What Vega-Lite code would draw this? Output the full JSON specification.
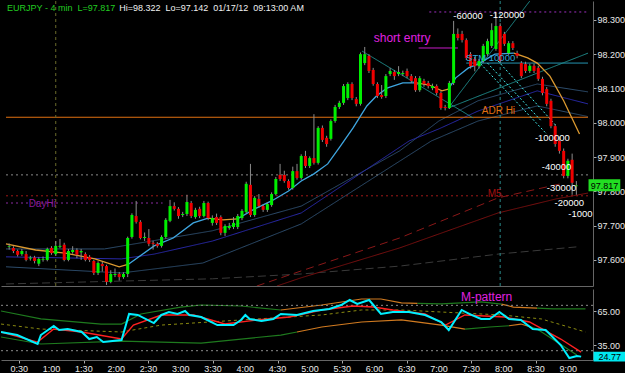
{
"$schema":"https://vega.github.io/schema/vega-lite/v6.json",
"background":"#000000",
"padding":0,
"spacing":2,
"config":{"view":{"stroke":null},"axis":{"labelFont":"Liberation Sans","labelFontSize":9,"labelColor":"#e8e8e8","tickColor":"#aaaaaa","domainColor":"#666666","grid":false,"title":null},"text":{"font":"Liberation Sans"}},
"datasets":{
"candles":[
{"t":16,"o":97.638,"h":97.648,"l":97.630,"c":97.640},{"t":20,"o":97.635,"h":97.640,"l":97.620,"c":97.626},{"t":24,"o":97.626,"h":97.630,"l":97.610,"c":97.615},{"t":28,"o":97.617,"h":97.632,"l":97.612,"c":97.626},{"t":32,"o":97.617,"h":97.626,"l":97.596,"c":97.600},{"t":36,"o":97.604,"h":97.612,"l":97.598,"c":97.607},{"t":40,"o":97.607,"h":97.612,"l":97.590,"c":97.597},{"t":44,"o":97.589,"h":97.608,"l":97.582,"c":97.603},{"t":48,"o":97.600,"h":97.610,"l":97.595,"c":97.602},{"t":52,"o":97.600,"h":97.636,"l":97.596,"c":97.632},
{"t":56,"o":97.635,"h":97.640,"l":97.615,"c":97.620},{"t":60,"o":97.617,"h":97.655,"l":97.612,"c":97.641},{"t":64,"o":97.638,"h":97.661,"l":97.634,"c":97.641},{"t":68,"o":97.644,"h":97.650,"l":97.596,"c":97.600},{"t":72,"o":97.600,"h":97.632,"l":97.596,"c":97.626},{"t":76,"o":97.623,"h":97.640,"l":97.618,"c":97.629},{"t":80,"o":97.629,"h":97.634,"l":97.605,"c":97.615},{"t":84,"o":97.622,"h":97.632,"l":97.600,"c":97.626},{"t":88,"o":97.617,"h":97.622,"l":97.596,"c":97.600},{"t":92,"o":97.609,"h":97.614,"l":97.594,"c":97.600},
{"t":96,"o":97.597,"h":97.600,"l":97.556,"c":97.562},{"t":100,"o":97.562,"h":97.596,"l":97.556,"c":97.591},{"t":104,"o":97.588,"h":97.594,"l":97.566,"c":97.582},{"t":108,"o":97.582,"h":97.586,"l":97.527,"c":97.536},{"t":112,"o":97.536,"h":97.570,"l":97.532,"c":97.559},{"t":116,"o":97.556,"h":97.575,"l":97.550,"c":97.559},{"t":120,"o":97.559,"h":97.565,"l":97.540,"c":97.550},{"t":124,"o":97.550,"h":97.564,"l":97.545,"c":97.559},{"t":128,"o":97.559,"h":97.668,"l":97.550,"c":97.664},{"t":132,"o":97.667,"h":97.736,"l":97.662,"c":97.731},
{"t":136,"o":97.728,"h":97.772,"l":97.706,"c":97.711},{"t":140,"o":97.711,"h":97.716,"l":97.660,"c":97.664},{"t":144,"o":97.664,"h":97.680,"l":97.655,"c":97.667},{"t":148,"o":97.664,"h":97.690,"l":97.640,"c":97.647},{"t":152,"o":97.650,"h":97.656,"l":97.630,"c":97.647},{"t":156,"o":97.647,"h":97.652,"l":97.636,"c":97.641},{"t":160,"o":97.641,"h":97.672,"l":97.636,"c":97.667},{"t":164,"o":97.667,"h":97.722,"l":97.662,"c":97.717},{"t":168,"o":97.714,"h":97.775,"l":97.710,"c":97.757},{"t":172,"o":97.757,"h":97.768,"l":97.744,"c":97.749},
{"t":176,"o":97.749,"h":97.754,"l":97.720,"c":97.728},{"t":180,"o":97.731,"h":97.740,"l":97.725,"c":97.734},{"t":184,"o":97.734,"h":97.790,"l":97.728,"c":97.769},{"t":188,"o":97.766,"h":97.772,"l":97.722,"c":97.728},{"t":192,"o":97.725,"h":97.752,"l":97.720,"c":97.746},{"t":196,"o":97.749,"h":97.755,"l":97.722,"c":97.728},{"t":200,"o":97.728,"h":97.772,"l":97.724,"c":97.766},{"t":204,"o":97.766,"h":97.770,"l":97.716,"c":97.722},{"t":208,"o":97.708,"h":97.730,"l":97.700,"c":97.722},{"t":212,"o":97.725,"h":97.735,"l":97.702,"c":97.708},
{"t":216,"o":97.725,"h":97.730,"l":97.672,"c":97.679},{"t":220,"o":97.679,"h":97.704,"l":97.670,"c":97.699},{"t":224,"o":97.693,"h":97.708,"l":97.688,"c":97.699},{"t":228,"o":97.696,"h":97.725,"l":97.690,"c":97.708},{"t":232,"o":97.696,"h":97.734,"l":97.690,"c":97.728},{"t":236,"o":97.722,"h":97.748,"l":97.716,"c":97.743},{"t":240,"o":97.740,"h":97.828,"l":97.736,"c":97.822},{"t":244,"o":97.819,"h":97.880,"l":97.725,"c":97.731},{"t":248,"o":97.731,"h":97.786,"l":97.726,"c":97.781},{"t":252,"o":97.778,"h":97.792,"l":97.752,"c":97.757},
{"t":256,"o":97.757,"h":97.762,"l":97.740,"c":97.746},{"t":260,"o":97.746,"h":97.768,"l":97.740,"c":97.763},{"t":264,"o":97.760,"h":97.797,"l":97.755,"c":97.792},{"t":268,"o":97.792,"h":97.842,"l":97.788,"c":97.836},{"t":272,"o":97.848,"h":97.880,"l":97.830,"c":97.836},{"t":276,"o":97.848,"h":97.860,"l":97.825,"c":97.830},{"t":280,"o":97.830,"h":97.835,"l":97.805,"c":97.810},{"t":284,"o":97.810,"h":97.872,"l":97.805,"c":97.859},{"t":288,"o":97.859,"h":97.880,"l":97.834,"c":97.839},{"t":292,"o":97.839,"h":97.908,"l":97.834,"c":97.903},
{"t":296,"o":97.903,"h":97.918,"l":97.868,"c":97.874},{"t":300,"o":97.874,"h":97.902,"l":97.868,"c":97.897},{"t":304,"o":97.897,"h":98.025,"l":97.878,"c":97.883},{"t":308,"o":97.883,"h":97.990,"l":97.878,"c":97.985},{"t":312,"o":97.985,"h":97.992,"l":97.944,"c":97.950},{"t":316,"o":97.956,"h":97.962,"l":97.930,"c":97.938},{"t":320,"o":97.953,"h":98.010,"l":97.948,"c":98.005},{"t":324,"o":98.005,"h":98.052,"l":98.000,"c":98.046},{"t":328,"o":98.046,"h":98.064,"l":98.040,"c":98.058},{"t":332,"o":98.058,"h":98.113,"l":98.052,"c":98.107},
{"t":336,"o":98.072,"h":98.118,"l":98.066,"c":98.113},{"t":340,"o":98.113,"h":98.118,"l":98.066,"c":98.072},{"t":344,"o":98.069,"h":98.075,"l":98.048,"c":98.055},{"t":348,"o":98.055,"h":98.205,"l":98.050,"c":98.200},{"t":352,"o":98.174,"h":98.221,"l":98.168,"c":98.200},{"t":356,"o":98.195,"h":98.200,"l":98.145,"c":98.151},{"t":360,"o":98.154,"h":98.160,"l":98.108,"c":98.113},{"t":364,"o":98.113,"h":98.118,"l":98.072,"c":98.078},{"t":368,"o":98.081,"h":98.110,"l":98.070,"c":98.075},{"t":372,"o":98.078,"h":98.142,"l":98.072,"c":98.136},
{"t":376,"o":98.142,"h":98.160,"l":98.136,"c":98.151},{"t":380,"o":98.148,"h":98.154,"l":98.125,"c":98.136},{"t":384,"o":98.142,"h":98.165,"l":98.136,"c":98.148},{"t":388,"o":98.142,"h":98.152,"l":98.136,"c":98.145},{"t":392,"o":98.151,"h":98.158,"l":98.130,"c":98.136},{"t":396,"o":98.136,"h":98.142,"l":98.116,"c":98.122},{"t":400,"o":98.130,"h":98.136,"l":98.090,"c":98.095},{"t":404,"o":98.095,"h":98.136,"l":98.090,"c":98.130},{"t":408,"o":98.122,"h":98.128,"l":98.105,"c":98.113},{"t":412,"o":98.116,"h":98.122,"l":98.100,"c":98.107},
{"t":416,"o":98.101,"h":98.114,"l":98.095,"c":98.107},{"t":420,"o":98.107,"h":98.112,"l":98.080,"c":98.087},{"t":424,"o":98.087,"h":98.092,"l":98.038,"c":98.043},{"t":428,"o":98.046,"h":98.052,"l":98.036,"c":98.043},{"t":432,"o":98.043,"h":98.122,"l":98.040,"c":98.116},{"t":436,"o":98.116,"h":98.297,"l":98.110,"c":98.259},{"t":440,"o":98.259,"h":98.275,"l":98.240,"c":98.247},{"t":444,"o":98.259,"h":98.268,"l":98.234,"c":98.241},{"t":448,"o":98.241,"h":98.246,"l":98.183,"c":98.189},{"t":452,"o":98.200,"h":98.206,"l":98.158,"c":98.165},
{"t":456,"o":98.186,"h":98.192,"l":98.150,"c":98.165},{"t":460,"o":98.165,"h":98.186,"l":98.158,"c":98.180},{"t":464,"o":98.180,"h":98.230,"l":98.175,"c":98.224},{"t":468,"o":98.200,"h":98.245,"l":98.195,"c":98.238},{"t":472,"o":98.224,"h":98.290,"l":98.218,"c":98.270},{"t":476,"o":98.215,"h":98.322,"l":98.210,"c":98.282},{"t":480,"o":98.282,"h":98.290,"l":98.175,"c":98.180},{"t":484,"o":98.259,"h":98.265,"l":98.224,"c":98.230},{"t":488,"o":98.203,"h":98.238,"l":98.198,"c":98.232},{"t":492,"o":98.232,"h":98.238,"l":98.212,"c":98.218},
{"t":496,"o":98.203,"h":98.210,"l":98.188,"c":98.195},{"t":500,"o":98.174,"h":98.180,"l":98.130,"c":98.136},{"t":504,"o":98.171,"h":98.178,"l":98.145,"c":98.151},{"t":508,"o":98.151,"h":98.172,"l":98.145,"c":98.166},{"t":512,"o":98.166,"h":98.172,"l":98.145,"c":98.151},{"t":516,"o":98.160,"h":98.166,"l":98.122,"c":98.128},{"t":520,"o":98.128,"h":98.134,"l":98.080,"c":98.087},{"t":524,"o":98.098,"h":98.104,"l":98.048,"c":98.055},{"t":528,"o":98.064,"h":98.070,"l":97.984,"c":97.990},{"t":532,"o":97.990,"h":97.996,"l":97.930,"c":97.938},
{"t":536,"o":97.947,"h":97.960,"l":97.910,"c":97.918},{"t":540,"o":97.918,"h":97.925,"l":97.838,"c":97.845},{"t":544,"o":97.845,"h":97.895,"l":97.838,"c":97.889},{"t":548,"o":97.892,"h":97.910,"l":97.790,"c":97.825},{"t":552,"o":97.815,"h":97.830,"l":97.790,"c":97.817}
],
"ma":[
{"t":13,"p":97.632,"s":"up"},{"t":106,"p":97.632,"s":"up"},{"t":208,"p":97.685,"s":"up"},{"t":292,"p":97.757,"s":"up"},{"t":385,"p":97.918,"s":"up"},{"t":422,"p":98.005,"s":"up"},{"t":459,"p":98.064,"s":"up"},{"t":515,"p":98.113,"s":"up"},{"t":563,"p":98.090,"s":"up"},
{"t":13,"p":97.609,"s":"mid"},{"t":122,"p":97.603,"s":"mid"},{"t":153,"p":97.617,"s":"mid"},{"t":208,"p":97.655,"s":"mid"},{"t":292,"p":97.737,"s":"mid"},{"t":394,"p":97.947,"s":"mid"},{"t":422,"p":97.982,"s":"mid"},{"t":459,"p":98.034,"s":"mid"},{"t":515,"p":98.093,"s":"mid"},{"t":563,"p":98.055,"s":"mid"},
{"t":13,"p":97.580,"s":"lo"},{"t":122,"p":97.562,"s":"lo"},{"t":199,"p":97.591,"s":"lo"},{"t":292,"p":97.705,"s":"lo"},{"t":415,"p":97.947,"s":"lo"},{"t":459,"p":98.005,"s":"lo"},{"t":515,"p":98.049,"s":"lo"},{"t":563,"p":98.018,"s":"lo"},
{"t":13,"p":97.530,"s":"gry"},{"t":208,"p":97.545,"s":"gry"},{"t":292,"p":97.559,"s":"gry"},{"t":385,"p":97.582,"s":"gry"},{"t":478,"p":97.617,"s":"gry"},{"t":552,"p":97.638,"s":"gry"},
{"t":250,"p":97.524,"s":"rdd"},{"t":292,"p":97.568,"s":"rdd"},{"t":385,"p":97.664,"s":"rdd"},{"t":478,"p":97.781,"s":"rdd"},{"t":540,"p":97.824,"s":"rdd"},
{"t":269,"p":97.524,"s":"rds"},{"t":292,"p":97.548,"s":"rds"},{"t":385,"p":97.635,"s":"rds"},{"t":478,"p":97.737,"s":"rds"},{"t":533,"p":97.778,"s":"rds"},{"t":563,"p":97.795,"s":"rds"}
],
"ema":[
{"t":13,"p":97.647,"s":"o1","k":"down"},{"t":41,"p":97.629,"s":"o1","k":"down"},{"t":69,"p":97.620,"s":"o1","k":"down"},{"t":97,"p":97.603,"s":"o1","k":"down"},{"t":120,"p":97.580,"s":"o1","k":"down"},{"t":129,"p":97.588,"s":"o1","k":"down"},
{"t":129,"p":97.588,"s":"b1","k":"up"},{"t":153,"p":97.641,"s":"b1","k":"up"},{"t":171,"p":97.664,"s":"b1","k":"up"},{"t":190,"p":97.708,"s":"b1","k":"up"},{"t":204,"p":97.722,"s":"b1","k":"up"},
{"t":204,"p":97.722,"s":"o2","k":"down"},{"t":218,"p":97.717,"s":"o2","k":"down"},{"t":232,"p":97.720,"s":"o2","k":"down"},
{"t":232,"p":97.720,"s":"b2","k":"up"},{"t":248,"p":97.749,"s":"b2","k":"up"},{"t":264,"p":97.772,"s":"b2","k":"up"},{"t":280,"p":97.801,"s":"b2","k":"up"},{"t":292,"p":97.830,"s":"b2","k":"up"},{"t":304,"p":97.851,"s":"b2","k":"up"},{"t":317,"p":97.880,"s":"b2","k":"up"},{"t":329,"p":97.932,"s":"b2","k":"up"},{"t":341,"p":97.985,"s":"b2","k":"up"},{"t":354,"p":98.049,"s":"b2","k":"up"},{"t":363,"p":98.078,"s":"b2","k":"up"},{"t":373,"p":98.101,"s":"b2","k":"up"},{"t":388,"p":98.116,"s":"b2","k":"up"},{"t":401,"p":98.116,"s":"b2","k":"up"},
{"t":401,"p":98.116,"s":"o3","k":"down"},{"t":413,"p":98.110,"s":"o3","k":"down"},{"t":425,"p":98.093,"s":"o3","k":"down"},{"t":431,"p":98.098,"s":"o3","k":"down"},
{"t":431,"p":98.098,"s":"b3","k":"up"},{"t":438,"p":98.131,"s":"b3","k":"up"},{"t":450,"p":98.160,"s":"b3","k":"up"},{"t":459,"p":98.171,"s":"b3","k":"up"},{"t":475,"p":98.200,"s":"b3","k":"up"},{"t":493,"p":98.203,"s":"b3","k":"up"},
{"t":493,"p":98.203,"s":"o4","k":"down"},{"t":506,"p":98.189,"s":"o4","k":"down"},{"t":515,"p":98.174,"s":"o4","k":"down"},{"t":527,"p":98.136,"s":"o4","k":"down"},{"t":540,"p":98.064,"s":"o4","k":"down"},{"t":555,"p":97.967,"s":"o4","k":"down"}
],
"levels":[
{"t":13,"t2":563,"p":97.848,"k":"grey"},
{"t":13,"t2":563,"p":97.787,"k":"m5"},
{"t":13,"t2":161,"p":97.766,"k":"dayhi"},
{"t":13,"t2":563,"p":98.016,"k":"adr"},
{"t":413,"t2":563,"p":98.323,"k":"top"},
{"t":403,"t2":440,"p":98.218,"k":"entry"},
{"t":448,"t2":563,"p":98.174,"k":"stm"}
],
"vlines":[{"t":60,"k":"day"},{"t":480,"k":"sess"}],
"trend":[
{"t":349.5,"p":98.209,"t2":454.5,"p2":98.014,"k":"teal"},
{"t":431,"p":98.043,"t2":508,"p2":98.355,"k":"teal"},
{"t":431,"p":98.043,"t2":563,"p2":98.203,"k":"teal"},
{"t":459,"p":98.180,"t2":524,"p2":97.967,"k":"cyan"},
{"t":468,"p":98.174,"t2":519,"p2":98.005,"k":"cyan"},
{"t":478,"p":98.180,"t2":533,"p2":97.991,"k":"cyan"}
],
"labels":[
{"t":14,"p":98.335,"txt":"EURJPY - 4 min \u00a0L=97.817","k":"hdr"},
{"t":120,"p":98.335,"txt":"Hi=98.322 \u00a0Lo=97.142 \u00a001/17/12 \u00a009:13:00 AM","k":"hdrw"},
{"t":360.5,"p":98.247,"txt":"short entry","k":"entry"},
{"t":462.6,"p":98.034,"txt":"ADR Hi","k":"adr"},
{"t":447.8,"p":98.189,"txt":"STM 10000","k":"stm"},
{"t":435.7,"p":98.311,"txt":"-60000","k":"qty"},
{"t":470.1,"p":98.314,"txt":"-120000","k":"qty"},
{"t":512.8,"p":97.956,"txt":"-100000","k":"qty"},
{"t":519.3,"p":97.871,"txt":"-40000","k":"qty"},
{"t":524,"p":97.810,"txt":"-30000","k":"qty"},
{"t":531.4,"p":97.766,"txt":"-20000","k":"qty"},
{"t":544.4,"p":97.734,"txt":"-1000","k":"qty"},
{"t":468.2,"p":97.792,"txt":"M5","k":"m5"},
{"t":34.4,"p":97.763,"txt":"DayHi","k":"dayhi"}
],
"pricebox":[{"t":563.5,"t2":593.5,"p":97.800,"p2":97.835,"tc":578.5,"pc":97.817,"txt":"97.817"}],
"bands":[
{"t":13,"v":65,"s":"ug1","k":"g"},{"t":50,"v":58,"s":"ug1","k":"g"},{"t":106,"v":53.5,"s":"ug1","k":"g"},{"t":125,"v":53.5,"s":"ug1","k":"g"},{"t":143,"v":62.4,"s":"ug1","k":"g"},{"t":180,"v":68.5,"s":"ug1","k":"g"},{"t":199,"v":70.3,"s":"ug1","k":"g"},{"t":236,"v":69.4,"s":"ug1","k":"g"},{"t":273,"v":65.9,"s":"ug1","k":"g"},
{"t":273,"v":65.9,"s":"uo1","k":"o"},{"t":311,"v":70.3,"s":"uo1","k":"o"},{"t":348,"v":75.6,"s":"uo1","k":"o"},{"t":366,"v":75.6,"s":"uo1","k":"o"},{"t":385,"v":72.1,"s":"uo1","k":"o"},{"t":400,"v":71.8,"s":"uo1","k":"o"},
{"t":400,"v":71.8,"s":"ug2","k":"g"},{"t":422,"v":71.2,"s":"ug2","k":"g"},{"t":459,"v":73,"s":"ug2","k":"g"},{"t":478,"v":71,"s":"ug2","k":"g"},
{"t":478,"v":71,"s":"uo2","k":"o"},{"t":489,"v":68.5,"s":"uo2","k":"o"},{"t":511,"v":67.5,"s":"uo2","k":"o"},
{"t":511,"v":67.5,"s":"ug3","k":"g"},{"t":526,"v":66.8,"s":"ug3","k":"g"},{"t":556,"v":66.8,"s":"ug3","k":"g"},
{"t":13,"v":42.1,"s":"lg1","k":"g"},{"t":50,"v":35.9,"s":"lg1","k":"g"},{"t":125,"v":38.5,"s":"lg1","k":"g"},{"t":199,"v":36.7,"s":"lg1","k":"g"},{"t":273,"v":43.8,"s":"lg1","k":"g"},{"t":288,"v":46.5,"s":"lg1","k":"g"},
{"t":288,"v":46.5,"s":"lo1","k":"o"},{"t":311,"v":50.9,"s":"lo1","k":"o"},{"t":348,"v":55.3,"s":"lo1","k":"o"},{"t":385,"v":57.1,"s":"lo1","k":"o"},{"t":422,"v":52.6,"s":"lo1","k":"o"},{"t":444,"v":49.1,"s":"lo1","k":"o"},
{"t":444,"v":49.1,"s":"lg2","k":"g"},{"t":467,"v":50.9,"s":"lg2","k":"g"},{"t":485,"v":52,"s":"lg2","k":"g"},
{"t":485,"v":52,"s":"lo2","k":"o"},{"t":496,"v":53.5,"s":"lo2","k":"o"},{"t":505,"v":51,"s":"lo2","k":"o"},
{"t":505,"v":51,"s":"lg3","k":"g"},{"t":511,"v":49.1,"s":"lg3","k":"g"},{"t":548,"v":26.2,"s":"lg3","k":"g"}
],
"mid":[{"t":13,"v":53.5},{"t":50,"v":49.1},{"t":125,"v":46.5},{"t":162,"v":52.6},{"t":236,"v":57.1},{"t":311,"v":61.5},{"t":348,"v":65.9},{"t":385,"v":65.9},{"t":422,"v":64.1},{"t":478,"v":61.5},{"t":515,"v":58},{"t":556,"v":46.5}],
"sig":[{"t":13,"v":46.5},{"t":47,"v":37.6},{"t":62,"v":49.1},{"t":88,"v":46.5},{"t":125,"v":40.3},{"t":136,"v":52.6},{"t":162,"v":61.5},{"t":192,"v":61.5},{"t":221,"v":53.5},{"t":251,"v":57.1},{"t":281,"v":59.7},{"t":311,"v":65.9},{"t":340,"v":69.4},{"t":359,"v":68.5},{"t":377,"v":65.9},{"t":407,"v":62.4},{"t":426,"v":52.6},{"t":444,"v":61.5},{"t":481,"v":59.7},{"t":504,"v":55.3},{"t":533,"v":40.3},{"t":552,"v":28.8}],
"k":[{"t":13,"v":46.5},{"t":28,"v":43.8},{"t":47,"v":35.9},{"t":50,"v":43.8},{"t":62,"v":51.8},{"t":67,"v":48.2},{"t":75,"v":49.1},{"t":88,"v":46.5},{"t":95,"v":40.3},{"t":102,"v":42.1},{"t":108,"v":37.6},{"t":125,"v":39.4},{"t":132,"v":62.4},{"t":140,"v":61.5},{"t":155,"v":54.4},{"t":162,"v":61.5},{"t":169,"v":64.1},{"t":177,"v":62.4},{"t":184,"v":65},{"t":188,"v":61.5},{"t":199,"v":59.7},{"t":214,"v":52.6},{"t":229,"v":52.6},{"t":236,"v":57.1},{"t":240,"v":61.5},{"t":244,"v":58},{"t":255,"v":56.2},{"t":266,"v":58},{"t":273,"v":62.4},{"t":288,"v":61.5},{"t":303,"v":65},{"t":318,"v":66.8},{"t":329,"v":70.3},{"t":337,"v":74.7},{"t":344,"v":71.2},{"t":355,"v":74.7},{"t":366,"v":62.4},{"t":377,"v":64.1},{"t":392,"v":64.1},{"t":407,"v":61.5},{"t":422,"v":55.3},{"t":429,"v":48.2},{"t":441,"v":65.9},{"t":448,"v":62.4},{"t":459,"v":58},{"t":467,"v":58},{"t":476,"v":64.1},{"t":485,"v":58},{"t":496,"v":57.1},{"t":507,"v":49.1},{"t":519,"v":48.2},{"t":533,"v":35},{"t":541,"v":23.5},{"t":548,"v":25.3},{"t":552,"v":24.77}],
"ilabels":[{"t":440.3,"v":77.4,"txt":"M-pattern"}],
"ibox":[{"t":563.5,"t2":593.5,"v":29,"v2":20.4,"tc":578.5,"vc":24.7,"txt":"24.77"}],
"times":[{"t":30,"v":13.9,"lab":"0:30"},{"t":60,"v":13.9,"lab":"1:00"},{"t":90,"v":13.9,"lab":"1:30"},{"t":120,"v":13.9,"lab":"2:00"},{"t":150,"v":13.9,"lab":"2:30"},{"t":180,"v":13.9,"lab":"3:00"},{"t":210,"v":13.9,"lab":"3:30"},{"t":240,"v":13.9,"lab":"4:00"},{"t":270,"v":13.9,"lab":"4:30"},{"t":300,"v":13.9,"lab":"5:00"},{"t":330,"v":13.9,"lab":"5:30"},{"t":360,"v":13.9,"lab":"6:00"},{"t":390,"v":13.9,"lab":"6:30"},{"t":420,"v":13.9,"lab":"7:00"},{"t":450,"v":13.9,"lab":"7:30"},{"t":480,"v":13.9,"lab":"8:00"},{"t":510,"v":13.9,"lab":"8:30"},{"t":540,"v":13.9,"lab":"9:00"}]
},
"vconcat":[
{
"width":592,"height":285,
"resolve":{"scale":{"color":"independent","strokeDash":"independent"}},
"layer":[
{"data":{"name":"ma"},"mark":{"type":"line","strokeWidth":1,"clip":true},
 "encoding":{
  "x":{"field":"t","type":"quantitative","scale":{"domain":[13,563],"nice":false,"zero":false},"axis":{"orient":"bottom","labels":false,"ticks":false,"domain":true,"domainColor":"#666666","title":null}},
  "y":{"field":"p","type":"quantitative","scale":{"domain":[97.524,98.355],"nice":false,"zero":false},"axis":{"orient":"right","values":[97.6,97.7,97.8,97.9,98.0,98.1,98.2,98.3],"format":".3f","title":null,"tickSize":3,"labelPadding":1}},
  "color":{"field":"s","type":"nominal","scale":{"domain":["up","mid","lo","gry","rdd","rds"],"range":["#2e4e6e","#2a2aac","#2e4e6e","#3a3a3a","#8a1818","#7a1010"]},"legend":null},
  "strokeDash":{"field":"s","type":"nominal","scale":{"domain":["up","mid","lo","gry","rdd","rds"],"range":[[1,0],[1,0],[1,0],[8,4],[8,5],[1,0]]},"legend":null}
 }},
{"data":{"name":"levels"},"mark":{"type":"rule","strokeWidth":1},
 "encoding":{
  "x":{"field":"t","type":"quantitative","title":null},"x2":{"field":"t2"},
  "y":{"field":"p","type":"quantitative","title":null},
  "color":{"field":"k","type":"nominal","scale":{"domain":["grey","m5","dayhi","adr","top","entry","stm"],"range":["#8a8a8a","#a01818","#8a2aa0","#e07010","#a030c0","#e020e0","#2aa8c8"]},"legend":null},
  "strokeDash":{"field":"k","type":"nominal","scale":{"domain":["grey","m5","dayhi","adr","top","entry","stm"],"range":[[2,3],[2,3],[2,3],[1,0],[2,3],[1,0],[1,0]]},"legend":null}
 }},
{"data":{"name":"vlines"},"mark":{"type":"rule","strokeWidth":1,"strokeDash":[3,3]},
 "encoding":{"x":{"field":"t","type":"quantitative","title":null},
  "color":{"field":"k","type":"nominal","scale":{"domain":["day","sess"],"range":["#6b6b2a","#2a8a8a"]},"legend":null}}},
{"data":{"name":"trend"},"mark":{"type":"rule","strokeWidth":1,"clip":true},
 "encoding":{
  "x":{"field":"t","type":"quantitative","title":null},"x2":{"field":"t2"},
  "y":{"field":"p","type":"quantitative","title":null},"y2":{"field":"p2"},
  "color":{"field":"k","type":"nominal","scale":{"domain":["teal","cyan"],"range":["#1f8c8c","#40e8e8"]},"legend":null},
  "strokeDash":{"field":"k","type":"nominal","scale":{"domain":["teal","cyan"],"range":[[1,0],[2,2]]},"legend":null}
 }},
{"data":{"name":"ema"},"mark":{"type":"line","strokeWidth":1.3,"clip":true},
 "encoding":{
  "x":{"field":"t","type":"quantitative","title":null},
  "y":{"field":"p","type":"quantitative","title":null},
  "color":{"field":"k","type":"nominal","scale":{"domain":["up","down"],"range":["#3fa6e0","#dc9a30"]},"legend":null},
  "detail":{"field":"s","type":"nominal"}
 }},
{"data":{"name":"candles"},"mark":{"type":"rule","strokeWidth":1,"color":"#8c8c8c"},
 "encoding":{"x":{"field":"t","type":"quantitative","title":null},"y":{"field":"l","type":"quantitative","title":null},"y2":{"field":"h"}}},
{"data":{"name":"candles"},"mark":{"type":"bar","orient":"vertical"},
 "encoding":{
  "x":{"field":"t","type":"quantitative","title":null},
  "y":{"field":"o","type":"quantitative","title":null},"y2":{"field":"c"},
  "size":{"value":3},
  "color":{"condition":{"test":"datum.c >= datum.o","value":"#00f000"},"value":"#f00000"}
 }},
{"data":{"name":"labels"},"transform":[{"filter":"datum.k=='hdr'"}],"mark":{"type":"text","align":"left","baseline":"middle","clip":true,"fontSize":9,"color":"#22cc22"},
 "encoding":{"x":{"field":"t","type":"quantitative","title":null},"y":{"field":"p","type":"quantitative","title":null},"text":{"field":"txt"}}},
{"data":{"name":"labels"},"transform":[{"filter":"datum.k=='hdrw'"}],"mark":{"type":"text","align":"left","baseline":"middle","clip":true,"fontSize":9,"color":"#f0f0f0"},
 "encoding":{"x":{"field":"t","type":"quantitative","title":null},"y":{"field":"p","type":"quantitative","title":null},"text":{"field":"txt"}}},
{"data":{"name":"labels"},"transform":[{"filter":"datum.k=='entry'"}],"mark":{"type":"text","align":"left","baseline":"middle","clip":true,"fontSize":12,"color":"#e020e0"},
 "encoding":{"x":{"field":"t","type":"quantitative","title":null},"y":{"field":"p","type":"quantitative","title":null},"text":{"field":"txt"}}},
{"data":{"name":"labels"},"transform":[{"filter":"datum.k=='adr'"}],"mark":{"type":"text","align":"left","baseline":"middle","clip":true,"fontSize":10,"color":"#e07010"},
 "encoding":{"x":{"field":"t","type":"quantitative","title":null},"y":{"field":"p","type":"quantitative","title":null},"text":{"field":"txt"}}},
{"data":{"name":"labels"},"transform":[{"filter":"datum.k=='stm'"}],"mark":{"type":"text","align":"left","baseline":"middle","clip":true,"fontSize":9.5,"color":"#30a8d8"},
 "encoding":{"x":{"field":"t","type":"quantitative","title":null},"y":{"field":"p","type":"quantitative","title":null},"text":{"field":"txt"}}},
{"data":{"name":"labels"},"transform":[{"filter":"datum.k=='qty'"}],"mark":{"type":"text","align":"left","baseline":"middle","clip":true,"fontSize":9.5,"color":"#ffffff"},
 "encoding":{"x":{"field":"t","type":"quantitative","title":null},"y":{"field":"p","type":"quantitative","title":null},"text":{"field":"txt"}}},
{"data":{"name":"labels"},"transform":[{"filter":"datum.k=='m5'"}],"mark":{"type":"text","align":"left","baseline":"middle","clip":true,"fontSize":10,"color":"#a01010"},
 "encoding":{"x":{"field":"t","type":"quantitative","title":null},"y":{"field":"p","type":"quantitative","title":null},"text":{"field":"txt"}}},
{"data":{"name":"labels"},"transform":[{"filter":"datum.k=='dayhi'"}],"mark":{"type":"text","align":"left","baseline":"middle","clip":true,"fontSize":10,"color":"#8a1a9a"},
 "encoding":{"x":{"field":"t","type":"quantitative","title":null},"y":{"field":"p","type":"quantitative","title":null},"text":{"field":"txt"}}},
{"data":{"name":"pricebox"},"mark":{"type":"rect","color":"#22dd22"},
 "encoding":{"x":{"field":"t","type":"quantitative","title":null},"x2":{"field":"t2"},"y":{"field":"p","type":"quantitative","title":null},"y2":{"field":"p2"}}},
{"data":{"name":"pricebox"},"mark":{"type":"text","align":"center","baseline":"middle","fontSize":9,"color":"#000000"},
 "encoding":{"x":{"field":"tc","type":"quantitative","title":null},"y":{"field":"pc","type":"quantitative","title":null},"text":{"field":"txt"}}}
]
},
{
"width":592,"height":71,
"resolve":{"scale":{"color":"independent"}},
"layer":[
{"data":{"name":"bands"},"mark":{"type":"line","strokeWidth":1.2,"clip":true},
 "encoding":{
  "x":{"field":"t","type":"quantitative","scale":{"domain":[13,563],"nice":false,"zero":false},"axis":{"orient":"bottom","values":[30,60,90,120,150,180,210,240,270,300,330,360,390,420,450,480,510,540],"labels":false,"tickSize":3,"title":null}},
  "y":{"field":"v","type":"quantitative","scale":{"domain":[21.8,84.4],"nice":false,"zero":false},"axis":{"orient":"right","values":[35,50,65],"format":".2f","title":null,"tickSize":3,"labelPadding":1}},
  "color":{"field":"k","type":"nominal","scale":{"domain":["g","o"],"range":["#1e7a1e","#d07a20"]},"legend":null},
  "detail":{"field":"s","type":"nominal"}
 }},
{"data":{"values":[{"v":70},{"v":30}]},"mark":{"type":"rule","color":"#8a8a8a","strokeDash":[2,3],"strokeWidth":1},
 "encoding":{"y":{"field":"v","type":"quantitative","title":null}}},
{"data":{"name":"mid"},"mark":{"type":"line","color":"#8a8a10","strokeDash":[3,3],"strokeWidth":1,"clip":true},
 "encoding":{"x":{"field":"t","type":"quantitative","title":null},"y":{"field":"v","type":"quantitative","title":null}}},
{"data":{"name":"sig"},"mark":{"type":"line","color":"#ff2020","strokeWidth":1.4,"clip":true},
 "encoding":{"x":{"field":"t","type":"quantitative","title":null},"y":{"field":"v","type":"quantitative","title":null}}},
{"data":{"name":"k"},"mark":{"type":"line","color":"#00f0ff","strokeWidth":2,"clip":true},
 "encoding":{"x":{"field":"t","type":"quantitative","title":null},"y":{"field":"v","type":"quantitative","title":null}}},
{"data":{"name":"ilabels"},"mark":{"type":"text","align":"left","baseline":"middle","fontSize":12,"color":"#e020e0"},
 "encoding":{"x":{"field":"t","type":"quantitative","title":null},"y":{"field":"v","type":"quantitative","title":null},"text":{"field":"txt"}}},
{"data":{"name":"times"},"mark":{"type":"text","align":"center","baseline":"middle","fontSize":9,"color":"#e8e8e8"},
 "encoding":{"x":{"field":"t","type":"quantitative","title":null},"y":{"field":"v","type":"quantitative","title":null},"text":{"field":"lab"}}},
{"data":{"name":"ibox"},"mark":{"type":"rect","color":"#00e8f0"},
 "encoding":{"x":{"field":"t","type":"quantitative","title":null},"x2":{"field":"t2"},"y":{"field":"v","type":"quantitative","title":null},"y2":{"field":"v2"}}},
{"data":{"name":"ibox"},"mark":{"type":"text","align":"center","baseline":"middle","fontSize":9,"color":"#000000"},
 "encoding":{"x":{"field":"tc","type":"quantitative","title":null},"y":{"field":"vc","type":"quantitative","title":null},"text":{"field":"txt"}}}
]
}
]
}
